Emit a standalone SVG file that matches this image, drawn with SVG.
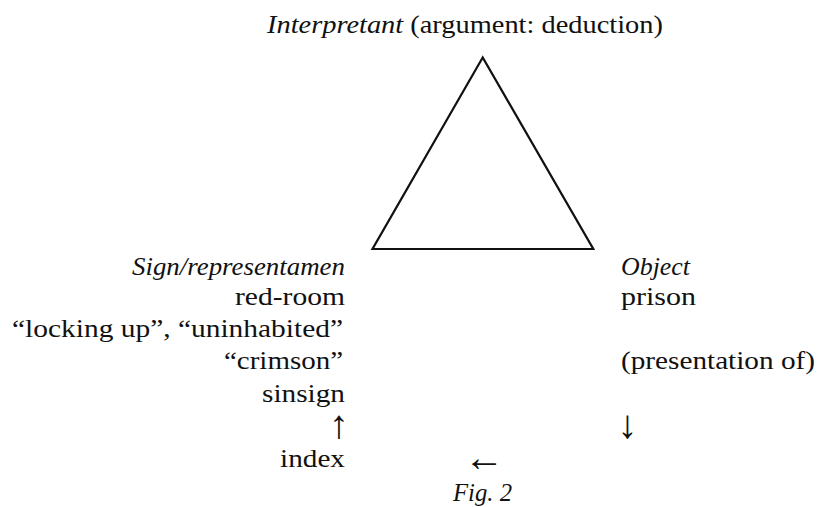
<svg xmlns="http://www.w3.org/2000/svg" width="818" height="507" viewBox="0 0 818 507">
<style>
text{font-family:"Liberation Serif","Times New Roman",serif;font-size:26px;fill:#111}
.it{font-style:italic}
.e{text-anchor:end}
.m{text-anchor:middle}
.arr{font-size:40px;text-anchor:middle}
.edge{stroke:#111;stroke-width:2.2;fill:none;stroke-linejoin:miter}
</style>
<rect width="818" height="507" fill="#fff"/>
<g id="connectors">
<polygon class="edge" points="482.7,57.5 372.5,249 593.3,249"/>
</g>
<g id="interpretant">
<text x="267" y="33" textLength="396" lengthAdjust="spacingAndGlyphs"><tspan class="it">Interpretant</tspan> (argument: deduction)</text>
</g>
<g id="sign">
<text class="it" x="132" y="275" textLength="213" lengthAdjust="spacingAndGlyphs">Sign/representamen</text>
<text class="e" x="345" y="305" textLength="110" lengthAdjust="spacingAndGlyphs">red-room</text>
<text x="12" y="337" textLength="331" lengthAdjust="spacingAndGlyphs">“locking up”, “uninhabited”</text>
<text class="e" x="343" y="369" textLength="119" lengthAdjust="spacingAndGlyphs">“crimson”</text>
<text class="e" x="345" y="402" textLength="83" lengthAdjust="spacingAndGlyphs">sinsign</text>
<text class="arr" x="339" y="438">↑</text>
<text class="e" x="345" y="467" textLength="65" lengthAdjust="spacingAndGlyphs">index</text>
</g>
<g id="object">
<text class="it" x="621" y="275" textLength="69" lengthAdjust="spacingAndGlyphs">Object</text>
<text x="621" y="305" textLength="75" lengthAdjust="spacingAndGlyphs">prison</text>
<text x="621" y="369" textLength="194" lengthAdjust="spacingAndGlyphs">(presentation of)</text>
<text class="arr" x="627.5" y="438">↓</text>
</g>
<g id="caption">
<text class="arr" x="484" y="471">←</text>
<text class="it" x="453" y="501" textLength="59" lengthAdjust="spacingAndGlyphs">Fig. 2</text>
</g>
</svg>
